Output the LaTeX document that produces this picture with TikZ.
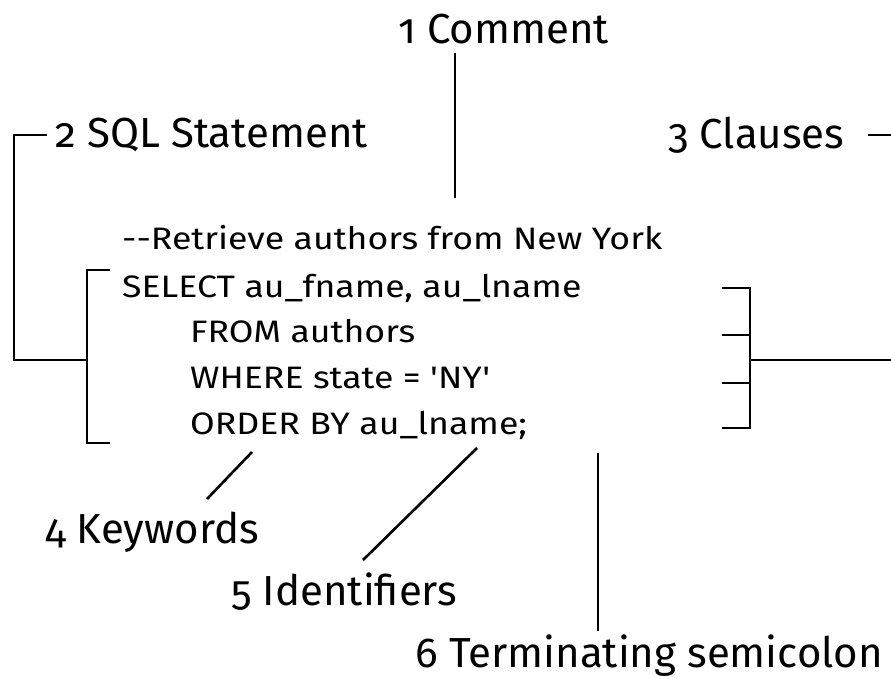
\documentclass[tikz,border=0pt]{standalone}
\usepackage{fontspec}
\setmainfont{Fira Sans}[Numbers=OldStyle,Ligatures=TeXOff]
\newfontfamily\listingfont{Fira Sans}[Ligatures=TeXOff,FakeStretch=1.15]
\begin{document}
\begin{tikzpicture}[x=1pt,y=-1pt,
  lbl/.style={anchor=base west, inner sep=0pt, font=\fontsize{42}{48}\selectfont},
  code/.style={anchor=base west, inner sep=0pt, font=\listingfont\fontsize{31}{36}\selectfont},
  conn/.style={draw=black, line width=2.6pt}]
\useasboundingbox (0,0) rectangle (891,678);

% callout labels
\node[lbl] (comment) at (398,43) {1 Comment};
\node[lbl] (stmt) at (55,147) {2 SQL Statement};
\node[lbl] (clauses) at (668,148) {3 Clauses};
\node[lbl] (kw) at (45,543) {4 Keywords};
\node[lbl] (ident) at (231,605) {5 Identifiers};
\node[lbl] (semi) at (415,667) {6 Terminating semicolon};

% the SQL listing
\node[code] (l0) at (122,249) {--Retrieve authors from New York};
\node[code] (l1) at (122,297) {SELECT au\_fname, au\_lname};
\node[code] (l2) at (190,342) {FROM authors};
\node[code] (l3) at (190,388) {WHERE state = 'NY'};
\node[code] (l4) at (190,434) {ORDER BY au\_lname;};

% anchor points of the connectors
\coordinate (cmA) at (455,53);   \coordinate (cmB) at (455,198);
\coordinate (stA) at (47,135);   \coordinate (stB) at (14,135);
\coordinate (stC) at (14,360);   \coordinate (stD) at (87,360);
\coordinate (inT) at (110,270);  \coordinate (inTc) at (87,270);
\coordinate (inBc) at (87,443);  \coordinate (inB) at (110,443);
\coordinate (rT) at (722,288);   \coordinate (rTc) at (750,288);
\coordinate (r2) at (722,335);   \coordinate (r2c) at (750,335);
\coordinate (r3) at (722,383);   \coordinate (r3c) at (750,383);
\coordinate (rB) at (722,428);   \coordinate (rBc) at (750,428);
\coordinate (rM) at (750,360);   \coordinate (rOut) at (891,360);
\coordinate (clA) at (868,135);  \coordinate (clB) at (891,135);
\coordinate (kwA) at (252,452);  \coordinate (kwB) at (207,499);
\coordinate (idA) at (477,448);  \coordinate (idB) at (363,560);
\coordinate (smA) at (598,453);  \coordinate (smB) at (598,631);

% comment pointer
\draw[conn] (cmA) -- (cmB);
% statement bracket
\draw[conn] (stA) -- (stB) -- (stC) -- (stD);
\draw[conn] (inT) -- (inTc) -- (inBc) -- (inB);
% clauses bracket
\draw[conn] (rT) -- (rTc) -- (rBc) -- (rB);
\draw[conn] (r2) -- (r2c);
\draw[conn] (r3) -- (r3c);
\draw[conn] (rM) -- (rOut);
\draw[conn] (clA) -- (clB);
% pointers below the listing
\draw[conn] (kwA) -- (kwB);
\draw[conn] (idA) -- (idB);
\draw[conn] (smA) -- (smB);
\end{tikzpicture}
\end{document}
